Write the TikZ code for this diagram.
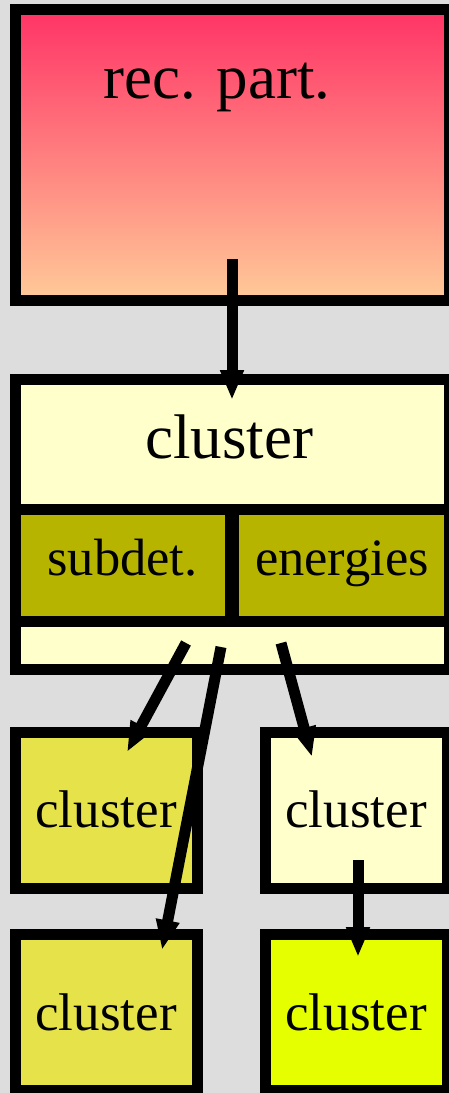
\documentclass[tikz,border=0pt]{standalone}
\usepackage{fontspec}
\setmainfont{Liberation Serif}
\usetikzlibrary{arrows.meta}
\definecolor{bg}{HTML}{DDDDDD}
\definecolor{recTop}{HTML}{FF3366}
\definecolor{recBot}{HTML}{FFCA98}
\definecolor{pale}{HTML}{FFFFCC}
\definecolor{olive}{HTML}{B7B400}
\definecolor{mustard}{HTML}{E5E24A}
\definecolor{lime}{HTML}{E5FF00}
\begin{document}
\begin{tikzpicture}[x=1pt,y=-1pt,
  box/.style={draw=black, line width=11pt, rectangle, inner sep=0pt, outer sep=0pt},
  bigtext/.style={font=\fontsize{63}{70}\selectfont, inner sep=0pt, anchor=base},
  smalltext/.style={font=\fontsize{53}{60}\selectfont, inner sep=0pt, anchor=base},
  celltext/.style={font=\fontsize{52.5}{60}\selectfont, inner sep=0pt, anchor=base},
  link/.style={line width=11pt, -{Triangle[length=30pt,width=22pt]}}]
\useasboundingbox (0,0) rectangle (449,1093);
\clip (0,0) rectangle (449,1093);
\fill[bg] (0,0) rectangle (449,1093);

% reconstructed particle
\node[box, top color=recTop, bottom color=recBot,
      minimum width=434pt, minimum height=290.5pt] (rec) at (232.5,154.75) {};
\node[bigtext] (recText) at (217,98) {rec. part.};

% cluster record with its two fields
\node[box, fill=pale, minimum width=434pt, minimum height=290pt] (clu) at (232.5,524) {};
\node[bigtext] (cluText) at (229,458) {cluster};
\node[box, fill=olive, minimum width=215pt, minimum height=112pt] (subdet) at (123,565) {};
\node[box, fill=olive, minimum width=216pt, minimum height=112pt] (energies) at (341.5,565) {};
\node[celltext] (subdetText) at (122.5,575) {subdet.};
\node[celltext] (energiesText) at (342,575) {energies};

% sub-clusters
\node[box, fill=mustard, minimum width=181.5pt, minimum height=156pt] (c1) at (106.25,810) {};
\node[box, fill=pale, minimum width=182.5pt, minimum height=156pt] (c2) at (356.25,810) {};
\node[box, fill=mustard, minimum width=181.5pt, minimum height=155.5pt] (c3) at (106.25,1012.5) {};
\node[box, fill=lime, minimum width=182.5pt, minimum height=155.5pt] (c4) at (356.25,1012.5) {};
\node[smalltext] (c1Text) at (106,827) {cluster};
\node[smalltext] (c2Text) at (356,827) {cluster};
\node[smalltext] (c3Text) at (106,1030) {cluster};
\node[smalltext] (c4Text) at (356,1030) {cluster};

% connector end points
\coordinate (recOut) at (232,259);
\coordinate (cluIn) at (232,400);
\coordinate (cluOutA) at (186,643);
\coordinate (cluOutB) at (221,647);
\coordinate (cluOutC) at (281,643);
\coordinate (c1In) at (127,752);
\coordinate (c3In) at (162,950);
\coordinate (c2In) at (312,757);
\coordinate (c2Out) at (358,860);
\coordinate (c4In) at (358,957);

\draw[link] (recOut) -- (cluIn);
\draw[link] (cluOutA) -- (c1In);
\draw[link] (cluOutB) -- (c3In);
\draw[link] (cluOutC) -- (c2In);
\draw[link] (c2Out) -- (c4In);
\end{tikzpicture}
\end{document}
